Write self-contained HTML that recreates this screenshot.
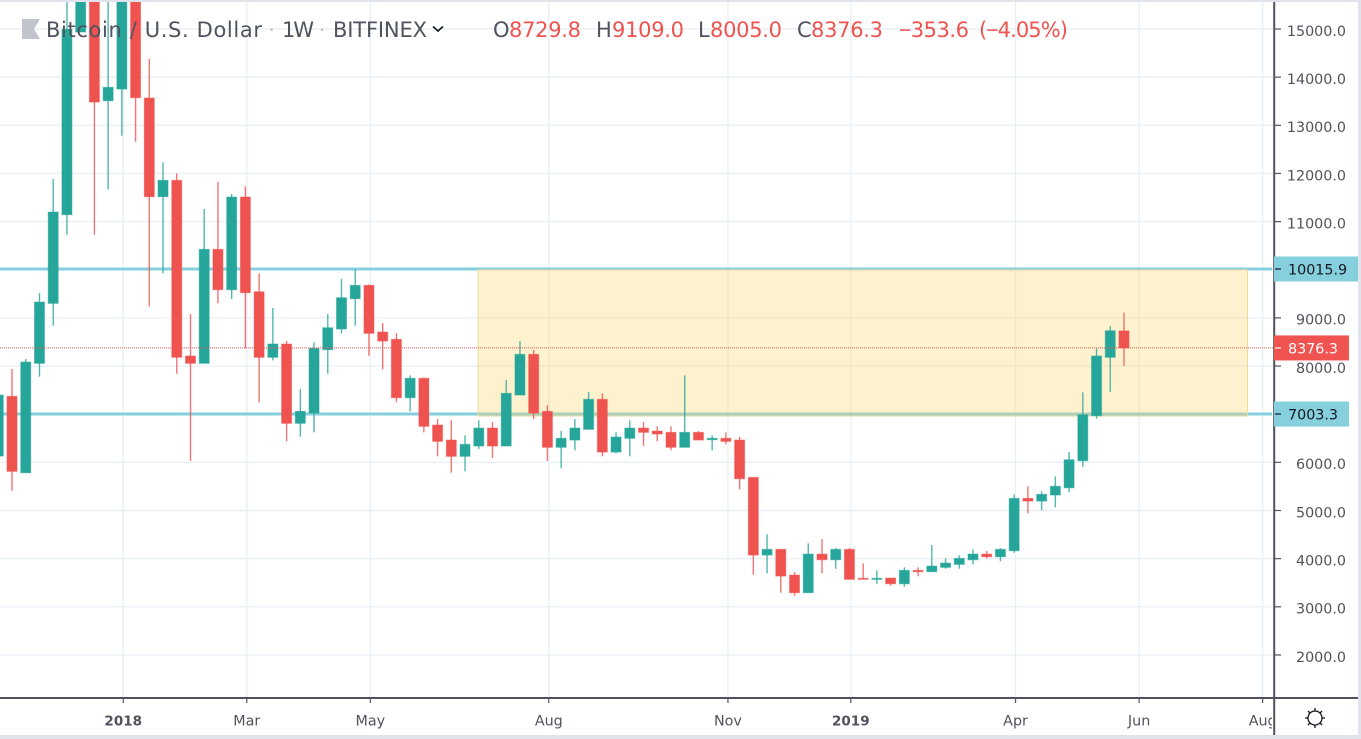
<!DOCTYPE html>
<html lang="en">
<head>
<meta charset="utf-8">
<title>Bitcoin / U.S. Dollar 1W chart</title>
<style>
html,body{margin:0;padding:0;background:#fff;width:1361px;height:739px;overflow:hidden}
svg{display:block;font-family:"DejaVu Sans","Liberation Sans",sans-serif}
</style>
</head>
<body>
<svg id="chart" width="1361" height="739" viewBox="0 0 1361 739" xmlns="http://www.w3.org/2000/svg">
  <defs>
    <clipPath id="pane-clip"><rect x="0" y="2" width="1274" height="696"/></clipPath>
    <clipPath id="time-clip"><rect x="0" y="699" width="1272" height="36"/></clipPath>
  </defs>
  <rect x="0" y="0" width="1361" height="739" fill="#ffffff"/>
  <g id="grid" clip-path="url(#pane-clip)"></g>
  <g id="levels" clip-path="url(#pane-clip)"></g>
  <g id="zone" clip-path="url(#pane-clip)"></g>
  <g id="candles" clip-path="url(#pane-clip)"></g>
  <g id="last-line" clip-path="url(#pane-clip)"></g>

  <g>
    <polygon points="22,19 40,19 34,29 40,39 22,39" fill="#c1c4cd"/>
    <g font-size="21" fill="#50535e">
      <text x="46" y="37" textLength="216" lengthAdjust="spacing">Bitcoin / U.S. Dollar</text>
      <text x="268.3" y="37" fill="#c1c4cd">·</text>
      <text x="282" y="37" textLength="32" lengthAdjust="spacing">1W</text>
      <text x="318.7" y="37" fill="#c1c4cd">·</text>
      <text x="333" y="37" textLength="94" lengthAdjust="spacing">BITFINEX</text>
    </g>
    <path d="M433 26.5 L438 31 L443 26.5" fill="none" stroke="#131722" stroke-width="1.6"/>
    <g font-size="21">
      <text x="493" y="37" fill="#50535e">O</text>
      <text x="509" y="37" fill="#ef5350" textLength="72" lengthAdjust="spacing">8729.8</text>
      <text x="596" y="37" fill="#50535e">H</text>
      <text x="612" y="37" fill="#ef5350" textLength="72" lengthAdjust="spacing">9109.0</text>
      <text x="698" y="37" fill="#50535e">L</text>
      <text x="710" y="37" fill="#ef5350" textLength="72" lengthAdjust="spacing">8005.0</text>
      <text x="797" y="37" fill="#50535e">C</text>
      <text x="811" y="37" fill="#ef5350" textLength="72" lengthAdjust="spacing">8376.3</text>
      <text x="899" y="37" fill="#ef5350" textLength="70" lengthAdjust="spacing"><tspan font-family="Liberation Sans">−</tspan>353.6</text>
      <text x="979" y="37" fill="#ef5350" textLength="89" lengthAdjust="spacing">(<tspan font-family="Liberation Sans">−</tspan>4.05%)</text>
    </g>
  </g>

  <line x1="1274.2" y1="2" x2="1274.2" y2="735" stroke="#50535e" stroke-width="2"/>
  <line x1="0" y1="698" x2="1358" y2="698" stroke="#50535e" stroke-width="2"/>
  <g id="price-axis"></g>
  <g id="time-axis"></g>
  <g id="price-labels"></g>

  <g fill="none" stroke="#131722" stroke-width="1.3">
    <circle cx="1315" cy="718" r="7"/>
    <path d="M1315 708v3M1315 725v3M1305 718h3M1322 718h3M1308 711l2 2M1320 723l2 2M1308 725l2-2M1320 713l2-2"/>
  </g>

  <rect x="0" y="0" width="1361" height="2" fill="#e0e3eb"/>
  <rect x="1358" y="0" width="3" height="739" fill="#e0e3eb"/>
  <rect x="0" y="735" width="1361" height="4" fill="#e0e3eb"/>
</svg>

<script>
const opens = [6131,7371,5784,8056,9302,11143,14937,19000,13510,13753,16600,13567,11517,11857,8208,8056,10424,9585,11510,9543,8181,8457,6810,7024,8339,8769,9398,9676,8706,8555,7342,7745,6775,6463,6125,6339,6712,6339,7398,8243,7059,6312,6463,6685,7309,6214,6499,6712,6650,6623,6312,6623,6469,6499,6463,5688,4075,4193,3659,3292,4095,3977,4193,3591,3570,3597,3478,3757,3728,3819,3881,3977,4095,4039,4164,5252,5196,5321,5472,6033,6968,8181,8729.8];
const highs = [7398,7938,8146,9516,11884,16500,17300,19500,16500,17100,17000,14377,12231,12002,9080,11261,11822,11573,11733,9926,9205,8519,7522,8492,9080,9807,10015,9697,8893,8679,7807,7765,6899,6872,6561,6872,6837,7709,8519,8332,7184,6650,6899,7460,7433,6623,6872,6837,6748,6748,7807,6650,6561,6623,6526,5688,4505,4193,3722,4318,4407,4220,4220,3902,3757,3597,3819,3819,4282,4006,4068,4193,4158,4220,5335,5502,5398,5709,6214,7454,8360,8831,9109];
const lows = [6131,5410,5784,7778,8837,10727,14937,10727,11670,12784,12659,9240,9926,7840,6027,8056,9302,9392,8368,7246,8119,6436,6532,6623,7840,8679,8837,8214,7932,7246,7059,6623,6125,5784,5813,6276,6089,6339,7398,6899,6027,5875,6249,6685,6125,6187,6125,6339,6436,6249,6312,6463,6249,6374,5439,3665,3695,3292,3229,3292,3695,3790,3570,3570,3478,3437,3416,3632,3728,3790,3790,3881,4006,3944,4122,4941,5003,5065,5377,5909,6906,7466,8005];
const closes = [7398,5813,8083,9329,11199,14993,16800,13483,13789,16700,13573,11517,11857,8181,8056,10424,9585,11510,9523,8181,8457,6810,7059,8368,8796,9419,9676,8679,8519,7342,7745,6748,6436,6125,6374,6712,6339,7433,8243,7024,6312,6499,6712,7309,6214,6526,6712,6623,6588,6312,6623,6463,6499,6436,5659,4075,4193,3638,3292,4095,3977,4193,3570,3570,3591,3478,3757,3728,3846,3908,4006,4095,4039,4193,5252,5196,5335,5502,6054,6989,8208,8733,8376.3];
const gridPrices = [2000,3000,4000,5000,6000,7000,8000,9000,10000,11000,12000,13000,14000,15000];
const axisPriceLabels = [2000,3000,4000,5000,6000,8000,9000,11000,12000,13000,14000,15000];
const timeLabels = ['2018','Mar','May','Aug','Nov','2019','Apr','Jun','Aug'];
const timeBars = [9.1,18.1,27.1,40.1,53.15,62.1,74.1,83.1,92.1];
const timeBold = [true,false,false,false,false,true,false,false,false];
const upperLevel = 10015.9;
const lowerLevel = 7003.3;
const lastPrice = 8376.3;
const zoneFromBar = 34.95;
const zoneToBar = 91;

const NS = 'http://www.w3.org/2000/svg';
const UP = '#26a69a', DOWN = '#ef5350', INK = '#50535e';
function xOf(bar){ return -1.7 + 13.728 * bar; }
function yOf(price){ return 29 + (15000 - price) * 0.04815; }
function make(tag, attrs, parent){
  const el = document.createElementNS(NS, tag);
  for (const k in attrs) el.setAttribute(k, attrs[k]);
  parent.appendChild(el);
  return el;
}

const gridG = document.getElementById('grid');
gridPrices.forEach(function(p){
  const l = make('line', {x1:0, x2:1274, y1:yOf(p), y2:yOf(p), stroke:'#e8f0f6', 'stroke-width':1.4}, gridG);
  
  
});
timeBars.forEach(function(b){
  const l = make('line', {x1:xOf(b), x2:xOf(b), y1:2, y2:698, stroke:'#e8f0f6', 'stroke-width':1.4}, gridG);
  
  
});

const levelsG = document.getElementById('levels');
[upperLevel, lowerLevel].forEach(function(p){
  const l = make('line', {x1:0, x2:1272, y1:yOf(p), y2:yOf(p), stroke:'#86cfdd', 'stroke-width':3}, levelsG);
  
  
});

const zoneG = document.getElementById('zone');
const zoneRect = make('rect', {x:xOf(zoneFromBar), y:yOf(upperLevel)+1, width:xOf(zoneToBar)-xOf(zoneFromBar), height:yOf(lowerLevel)-yOf(upperLevel)+1, fill:'#fcd267', 'fill-opacity':0.32, stroke:'#e9dca0', 'stroke-width':1}, zoneG);



const candlesG = document.getElementById('candles');
closes.forEach(function(c, i){
  const o = opens[i], color = c >= o ? UP : DOWN, x = xOf(i);
  const top = yOf(Math.max(o, c)), bot = yOf(Math.min(o, c));
  const wick = make('line', {x1:x, x2:x, y1:yOf(highs[i]), y2:yOf(lows[i]), stroke:color, 'stroke-width':1.4, 'stroke-opacity':0.8}, candlesG);
  
  
  const body = make('rect', {x:x-5, y:top, width:10, height:Math.max(bot-top, 1), fill:color, stroke:color, 'stroke-opacity':0.5, 'stroke-width':1}, candlesG);
  
  
});

const lastG = document.getElementById('last-line');
const lastLine = make('line', {x1:0, x2:1274, y1:yOf(lastPrice), y2:yOf(lastPrice), stroke:DOWN, 'stroke-width':1, 'stroke-dasharray':'1 1'}, lastG);



const priceAxis = document.getElementById('price-axis');
gridPrices.forEach(function(p){
  const t = make('line', {x1:1275, x2:1281, y1:yOf(p), y2:yOf(p), stroke:INK, 'stroke-width':1.2}, priceAxis);
  
  
});
axisPriceLabels.forEach(function(p){
  const t = make('text', {x:1346, y:yOf(p)+6.8, 'text-anchor':'end', 'font-size':14.3, fill:INK}, priceAxis);
  t.textContent = p.toFixed(1);
  
  
});

const timeAxis = document.getElementById('time-axis');
const timeTextG = make('g', {'clip-path':'url(#time-clip)'}, timeAxis);


timeLabels.forEach(function(lbl, i){
  const x = xOf(timeBars[i]);
  const tick = make('line', {x1:x, x2:x, y1:698, y2:703, stroke:INK, 'stroke-width':1.2}, timeAxis);
  
  
  const t = make('text', {x:x, y:725.5, 'text-anchor':'middle', 'font-size':timeBold[i] ? 13.5 : 14.3, fill:INK, 'font-weight':timeBold[i] ? 'bold' : 'normal'}, timeTextG);
  t.textContent = lbl;
  
  
});

const labelsG = document.getElementById('price-labels');
function priceTag(price, text, w, fill, color, name){
  const y = yOf(price);
  const r = make('rect', {x:1274, y:y-12.5, width:w, height:25, fill:fill}, labelsG);
  
  
  const tk = make('line', {x1:1275, x2:1281, y1:y, y2:y, stroke:color, 'stroke-width':1.2}, labelsG);
  
  
  const t = make('text', {x:1288, y:y+5.6, 'font-size':14.3, fill:color}, labelsG);
  t.textContent = text;
  
  
}
priceTag(upperLevel, upperLevel.toFixed(1), 84, '#86cfdd', '#131722', 'upper-level-label');
priceTag(lowerLevel, lowerLevel.toFixed(1), 75, '#86cfdd', '#131722', 'lower-level-label');
priceTag(lastPrice, lastPrice.toFixed(1), 75, '#f05350', '#ffffff', 'last-price-label');
</script>
</body>
</html>
